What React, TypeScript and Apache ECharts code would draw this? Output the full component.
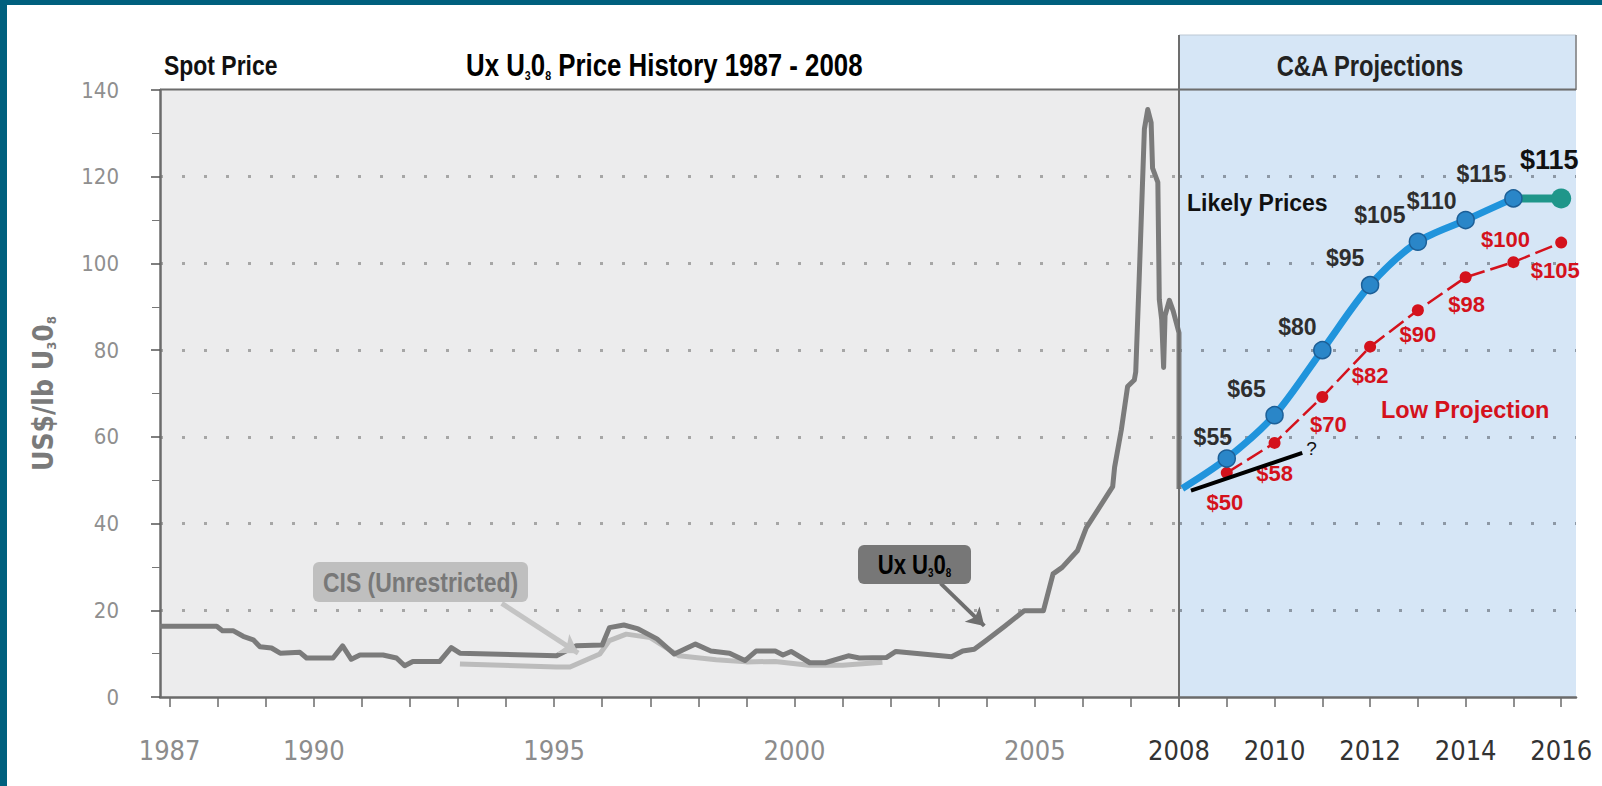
import React, { useEffect, useRef } from 'react';
import * as echarts from 'echarts';

const COND = "'DejaVu Sans Condensed', 'Liberation Sans', sans-serif";
const SANS = "'Liberation Sans', Arial, sans-serif";
const TEAL = '#00607e';
const NARROW_SCALE = 0.82;

// ---- data ----
const histTickYears = [1987, 1988, 1989, 1990, 1991, 1992, 1993, 1994, 1995, 1996, 1997, 1998, 1999, 2000, 2001, 2002, 2003, 2004, 2005, 2006, 2007, 2008];
const histLabelYears = [1987, 1990, 1995, 2000, 2005];
const projTickYears = [2008, 2009, 2010, 2011, 2012, 2013, 2014, 2015, 2016];
const projLabelYears = [2008, 2010, 2012, 2014, 2016];

const uxHistory: [number, number][] = [
  [1986.8, 16.3], [1987.98, 16.3], [1988.1, 15.3], [1988.32, 15.3], [1988.53, 14.0], [1988.74, 13.2],
  [1988.88, 11.6], [1989.12, 11.3], [1989.3, 10.1], [1989.71, 10.3], [1989.85, 9.0], [1990.4, 9.0],
  [1990.6, 11.8], [1990.78, 8.7], [1990.96, 9.7], [1991.44, 9.7], [1991.72, 9.0], [1991.89, 7.2],
  [1992.06, 8.2], [1992.62, 8.2], [1992.86, 11.4], [1993.04, 10.1], [1995.05, 9.5], [1995.46, 11.8],
  [1996.0, 12.0], [1996.15, 16.0], [1996.45, 16.6], [1996.75, 15.7], [1997.14, 13.4], [1997.5, 9.9],
  [1997.94, 12.2], [1998.26, 10.6], [1998.65, 10.1], [1998.97, 8.4], [1999.2, 10.6], [1999.6, 10.6],
  [1999.76, 9.7], [1999.93, 10.5], [2000.32, 7.9], [2000.64, 7.9], [2001.12, 9.5], [2001.35, 9.0],
  [2001.91, 9.1], [2002.11, 10.5], [2003.27, 9.3], [2003.5, 10.6], [2003.74, 11.0], [2003.98, 13.0],
  [2004.38, 16.4], [2004.78, 19.9], [2005.18, 19.9], [2005.38, 28.4], [2005.57, 29.9], [2005.89, 33.8],
  [2006.07, 39.0], [2006.62, 48.5], [2006.66, 53.0], [2006.8, 61.6], [2006.93, 71.6], [2007.07, 73.1],
  [2007.1, 75.0], [2007.17, 96.0], [2007.28, 131.0], [2007.35, 135.5], [2007.42, 132.5], [2007.45, 122.0],
  [2007.56, 118.7], [2007.59, 91.7], [2007.64, 87.0], [2007.68, 76.0], [2007.71, 88.0], [2007.8, 91.5],
  [2007.88, 89.0], [2008.0, 84.0], [2008.0, 48.0],
];

const cisHistory: [number, number][] = [
  [1993.04, 7.6], [1995.05, 6.9], [1995.33, 6.9], [1995.95, 9.9], [1996.15, 13.0], [1996.5, 14.5],
  [1997.0, 13.7], [1997.6, 9.5], [1998.37, 8.6], [1999.0, 8.1], [1999.6, 8.2], [2000.3, 7.3],
  [2001.0, 7.3], [2001.83, 8.0],
];

const cisArrow: [number, number][] = [[1993.91, 21.6], [1995.5, 10.1]];
const uxArrow: [number, number][] = [[2003.04, 26.2], [2003.95, 16.4]];

const likelyStart: [number, number] = [2008.07, 48.1];
const likelyYears = [2009, 2010, 2011, 2012, 2013, 2014, 2015];
const likelyPrices = [55, 65, 80, 95, 105, 110, 115];
const likelyLabels = ['$55', '$65', '$80', '$95', '$105', '$110', '$115'];
const finalYears = [2015, 2016];
const finalPrices = [115, 115];
const finalLabel = '$115';

const lowYears = [2009, 2010, 2011, 2012, 2013, 2014, 2015, 2016];
const lowPrices = [51.7, 58.6, 69.2, 80.8, 89.2, 96.8, 100.3, 104.8];
const lowLabels = ['$50', '$58', '$70', '$82', '$90', '$98', '$100', '$105'];

const questionLine: [number, number][] = [[2008.25, 47.6], [2010.58, 56.3]];

// ---- label placement (style) ----
const likelyLabelOffsets = [[-14, -22], [-28, -26], [-25, -23], [-25, -27], [-38, -27], [-34, -19], [-32, -24]];
const finalLabelOffset = [-12, -38];
const lowLabelOffsets = [[-2, 30], [0, 31], [6, 28], [0, 29], [0, 24], [1, 27], [-8, -23], [-6, 28]];

const subRich = (color: string, size: number, sub: number, family: string) => ({
  m: { fontSize: size, fontWeight: 'bold', fontFamily: family, color, verticalAlign: 'middle', lineHeight: size + 2 },
  s: { fontSize: sub, fontWeight: 'bold', fontFamily: family, color, verticalAlign: 'bottom' },
});

export default function App() {
  const ref = useRef<HTMLDivElement>(null);

  useEffect(() => {
    if (!ref.current) return;
    const chart = echarts.init(ref.current, null, { renderer: 'svg' });

    const likelyData: any[] = [
      { value: likelyStart, symbol: 'none', label: { show: false } },
      ...likelyYears.map((y, i) => ({
        value: [y, likelyPrices[i]],
        label: { show: true, formatter: likelyLabels[i], position: 'inside', offset: likelyLabelOffsets[i] },
      })),
    ];
    const finalData: any[] = finalYears.map((y, i) =>
      i === 0
        ? { value: [y, finalPrices[i]], symbol: 'none', label: { show: false } }
        : { value: [y, finalPrices[i]], label: { show: true, formatter: finalLabel, position: 'inside', offset: finalLabelOffset } }
    );
    const lowData: any[] = lowYears.map((y, i) => ({
      value: [y, lowPrices[i]],
      label: { show: true, formatter: lowLabels[i], position: 'inside', offset: lowLabelOffsets[i] },
    }));

    const xAxisBase = {
      type: 'value',
      axisLine: { show: true, onZero: false, lineStyle: { color: '#6b6b6b', width: 2.5 } },
      axisTick: { show: true, length: 10, lineStyle: { color: '#6b6b6b', width: 1.5 } },
      splitLine: { show: false },
    };

    const narrowText = (x: number, y: number, text: string, size: number, fill: string, align: string) => ({
      type: 'text', z: 21, x, y, scaleX: NARROW_SCALE,
      style: { text, fill, fontSize: size, fontWeight: 'bold', fontFamily: SANS, align, verticalAlign: 'middle' },
    });

    const option: any = {
      animation: false,
      backgroundColor: '#ffffff',
      grid: [
        { left: 160, top: 90, width: 1019, height: 607, show: true, backgroundColor: '#ececed', borderWidth: 0 },
        { left: 1179, top: 90, width: 397, height: 607, show: true, backgroundColor: '#d6e6f6', borderWidth: 0 },
      ],
      xAxis: [
        {
          ...xAxisBase,
          gridIndex: 0, min: 1986.8, max: 2008,
          axisTick: { ...xAxisBase.axisTick, customValues: histTickYears },
          axisLabel: { customValues: histLabelYears, color: '#8c8c8c', fontSize: 27, fontFamily: COND, margin: 40, formatter: (v: number) => String(v) },
        },
        {
          ...xAxisBase,
          gridIndex: 1, min: 2008, max: 2016.31,
          axisTick: { ...xAxisBase.axisTick, customValues: projTickYears },
          axisLabel: { customValues: projLabelYears, color: '#333333', fontSize: 27, fontFamily: COND, margin: 40, formatter: (v: number) => String(v) },
        },
      ],
      yAxis: [
        {
          type: 'value', gridIndex: 0, min: 0, max: 140, interval: 20,
          axisLine: { show: true, onZero: false, lineStyle: { color: '#6b6b6b', width: 2.5 } },
          axisTick: { show: true, length: 9, lineStyle: { color: '#555', width: 1.5 } },
          minorTick: { show: true, splitNumber: 2, length: 8, lineStyle: { color: '#777', width: 1 } },
          axisLabel: { color: '#8f8f8f', fontSize: 22, fontFamily: COND, margin: 41 },
          splitLine: { show: true, showMinLine: false, showMaxLine: false, lineStyle: { type: [3, 19], width: 3, color: '#a6a6a6' } },
          name: '{m|US$/lb U}{s|3}{m|0}{s|8}',
          nameLocation: 'middle', nameGap: 102, nameRotate: 90,
          nameTextStyle: { rich: subRich('#7a7a7a', 28, 13, COND) },
        },
        {
          type: 'value', gridIndex: 1, min: 0, max: 140, interval: 20,
          axisLine: { show: false }, axisTick: { show: false }, axisLabel: { show: false },
          splitLine: { show: true, showMinLine: false, showMaxLine: false, lineStyle: { type: [3, 19], width: 3, color: '#8d98a5' } },
        },
      ],
      series: [
        {
          name: 'CIS (Unrestricted)', type: 'line', xAxisIndex: 0, yAxisIndex: 0, data: cisHistory,
          symbol: 'none', clip: false, z: 2,
          lineStyle: { color: '#bcbcbc', width: 5, join: 'round' },
          markLine: {
            silent: true, symbol: ['none', 'arrow'], symbolSize: [17, 18], label: { show: false },
            lineStyle: { color: '#c4c4c4', width: 5, type: 'solid' },
            data: [[{ coord: cisArrow[0] }, { coord: cisArrow[1] }]],
          },
        },
        {
          name: 'Ux U3O8', type: 'line', xAxisIndex: 0, yAxisIndex: 0, data: uxHistory,
          symbol: 'none', clip: false, z: 3,
          lineStyle: { color: '#7b7b7b', width: 5, join: 'round' },
          markLine: {
            silent: true, symbol: ['none', 'arrow'], symbolSize: [16, 17], label: { show: false },
            lineStyle: { color: '#6e6e6e', width: 4, type: 'solid' },
            data: [[{ coord: uxArrow[0] }, { coord: uxArrow[1] }]],
          },
        },
        {
          name: 'Likely final', type: 'line', xAxisIndex: 1, yAxisIndex: 1, data: finalData,
          symbol: 'circle', symbolSize: 20, clip: false, z: 3,
          lineStyle: { color: '#1f968a', width: 8 },
          itemStyle: { color: '#1f968a' },
          label: { color: '#111', fontSize: 27, fontWeight: 'bold', fontFamily: SANS },
        },
        {
          name: 'Low Projection', type: 'line', xAxisIndex: 1, yAxisIndex: 1, data: lowData,
          symbol: 'circle', symbolSize: 12, clip: false, z: 4,
          lineStyle: { color: '#d4121c', width: 2.5, type: [18, 6] },
          itemStyle: { color: '#d4121c' },
          label: { color: '#d4121c', fontSize: 22, fontWeight: 'bold', fontFamily: SANS },
        },
        {
          name: 'Likely Prices', type: 'line', xAxisIndex: 1, yAxisIndex: 1, data: likelyData,
          smooth: 0.3, symbol: 'circle', symbolSize: 17, clip: false, z: 5,
          lineStyle: { color: '#2094dc', width: 7 },
          itemStyle: { color: '#2a86c8', borderColor: '#1c5f97', borderWidth: 1.5 },
          label: { color: '#2e2e2e', fontSize: 23, fontWeight: 'bold', fontFamily: SANS },
        },
        {
          name: 'question', type: 'line', xAxisIndex: 1, yAxisIndex: 1, data: questionLine,
          symbol: 'none', clip: false, z: 6,
          lineStyle: { color: '#000000', width: 4 },
          endLabel: { show: true, formatter: () => '?', color: '#111', fontSize: 19, fontFamily: SANS, distance: 4, offset: [0, -4] },
        },
      ],
      graphic: [
        { type: 'rect', z: 100, shape: { x: 0, y: 0, width: 1602, height: 5 }, style: { fill: TEAL } },
        { type: 'rect', z: 100, shape: { x: 0, y: 0, width: 7, height: 786 }, style: { fill: TEAL } },
        { type: 'rect', z: 1, shape: { x: 1179, y: 35, width: 397, height: 55 }, style: { fill: '#d6e6f6', stroke: '#bcc8d4', lineWidth: 1 } },
        { type: 'line', z: 10, shape: { x1: 1576, y1: 35, x2: 1576, y2: 90 }, style: { stroke: '#808080', lineWidth: 1.5 } },
        { type: 'line', z: 10, shape: { x1: 160, y1: 89.5, x2: 1576, y2: 89.5 }, style: { stroke: '#6d6d6d', lineWidth: 2 } },
        { type: 'line', z: 10, shape: { x1: 1179, y1: 35, x2: 1179, y2: 697 }, style: { stroke: '#6d6d6d', lineWidth: 2 } },
        narrowText(164, 65, 'Spot Price', 28, '#111', 'left'),
        {
          type: 'text', z: 21, x: 466, y: 65, scaleX: NARROW_SCALE,
          style: { text: '{m|Ux U}{s|3}{m|0}{s|8}{m| Price History 1987 - 2008}', rich: subRich('#1e1e1e', 31.5, 13, SANS), align: 'left', verticalAlign: 'middle' },
        },
        narrowText(1370, 66, 'C&A Projections', 29, '#222', 'center'),
        {
          type: 'text', z: 21, x: 1187, y: 203,
          style: { text: 'Likely Prices', fill: '#111', fontSize: 23, fontWeight: 'bold', fontFamily: SANS, align: 'left', verticalAlign: 'middle' },
        },
        {
          type: 'text', z: 21, x: 1381, y: 410,
          style: { text: 'Low Projection', fill: '#d4121c', fontSize: 23.5, fontWeight: 'bold', fontFamily: SANS, align: 'left', verticalAlign: 'middle' },
        },
        { type: 'rect', z: 20, shape: { x: 313, y: 562, width: 215, height: 40, r: 6 }, style: { fill: '#bfbfbf' } },
        narrowText(420.5, 582, 'CIS (Unrestricted)', 28, '#787878', 'center'),
        { type: 'rect', z: 20, shape: { x: 858, y: 545, width: 113, height: 39, r: 6 }, style: { fill: '#777777' } },
        {
          type: 'text', z: 21, x: 914.5, y: 564.5, scaleX: NARROW_SCALE,
          style: { text: '{m|Ux U}{s|3}{m|0}{s|8}', rich: subRich('#ffffff', 27, 12, SANS), align: 'center', verticalAlign: 'middle' },
        },
      ],
    };

    chart.setOption(option);
    return () => chart.dispose();
  }, []);

  return <div ref={ref} style={{ position: 'fixed', left: 0, top: 0, width: 1602, height: 786 }} />;
}
